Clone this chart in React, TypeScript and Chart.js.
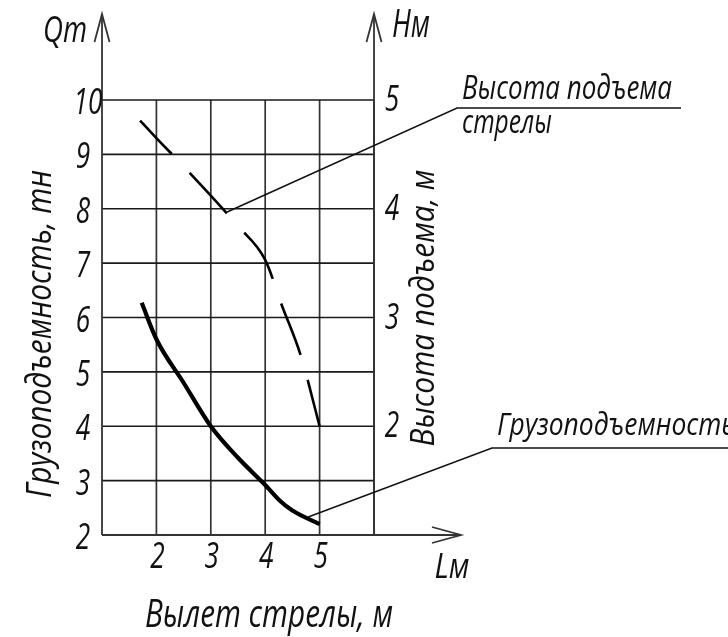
import React, { useEffect, useRef } from "react";
import { Chart, registerables } from "chart.js";
Chart.register(...registerables);

// ---- data ----
const reachCapacity = [1.73, 2, 2.5, 3, 3.5, 4, 4.27, 4.5, 5];
const capacityT = [6.27, 5.6, 4.8, 4.0, 3.42, 2.92, 2.63, 2.45, 2.2];
const reachHeight = [1.7, 2, 2.5, 3, 3.5, 4, 4.3, 4.66, 5];
const heightM = [4.81, 4.65, 4.39, 4.12, 3.84, 3.53, 3.12, 2.64, 2.0];

const xTicks = [2, 3, 4, 5];
const qTicks = [2, 3, 4, 5, 6, 7, 8, 9, 10];
const hTicks = [2, 3, 4, 5];
const xGridValues = [2, 3, 4, 5, 6];
const qGridValues = [3, 4, 5, 6, 7, 8, 9, 10];

const heightLeaderAt = [3.3, 3.97];
const capacityLeaderAt = [4.79, 2.33];

const FONT = "'Open Sans', 'Noto Sans', 'DejaVu Sans', sans-serif";

function drawText(
  ctx: CanvasRenderingContext2D,
  text: string,
  x: number,
  y: number,
  cap: number,
  width: number | null,
  align: CanvasTextAlign,
  rot = 0
) {
  ctx.save();
  ctx.translate(x, y);
  if (rot) ctx.rotate(rot);
  const size = cap / 0.714;
  ctx.font = `italic 400 ${size}px ${FONT}`;
  const m = ctx.measureText(text).width;
  const sx = width ? width / m : 0.72;
  ctx.scale(sx, 1);
  ctx.textAlign = align;
  ctx.textBaseline = "alphabetic";
  ctx.fillStyle = "#111";
  ctx.fillText(text, 0, cap / 2);
  ctx.restore();
}

function arrowHead(ctx: CanvasRenderingContext2D, tx: number, ty: number, dir: "up" | "right") {
  ctx.beginPath();
  if (dir === "up") {
    ctx.moveTo(tx - 7.5, ty + 28);
    ctx.lineTo(tx, ty);
    ctx.lineTo(tx + 7.5, ty + 28);
  } else {
    ctx.moveTo(tx - 29, ty - 8);
    ctx.lineTo(tx, ty);
    ctx.lineTo(tx - 29, ty + 8);
  }
  ctx.stroke();
}

const drawingPlugin = {
  id: "drawing",
  beforeDatasetsDraw(chart: any) {
    const ctx: CanvasRenderingContext2D = chart.ctx;
    const xs = chart.scales.x;
    const ys = chart.scales.y;
    const left = xs.getPixelForValue(1);
    const right = xs.getPixelForValue(6);
    const top = ys.getPixelForValue(10);
    const bottom = ys.getPixelForValue(2);
    ctx.save();
    ctx.strokeStyle = "#333";
    ctx.lineWidth = 1.7;
    for (const v of xGridValues) {
      const px = xs.getPixelForValue(v);
      ctx.beginPath();
      ctx.moveTo(px, top);
      ctx.lineTo(px, bottom);
      ctx.stroke();
    }
    ctx.strokeStyle = "#1a1a1a";
    for (const v of qGridValues) {
      const py = ys.getPixelForValue(v);
      ctx.beginPath();
      ctx.moveTo(left, py);
      ctx.lineTo(right, py);
      ctx.stroke();
    }
    // axes with arrows
    ctx.strokeStyle = "#333";
    ctx.lineWidth = 1.8;
    ctx.beginPath();
    ctx.moveTo(left, bottom);
    ctx.lineTo(left, 14);
    ctx.stroke();
    arrowHead(ctx, left, 14, "up");
    ctx.beginPath();
    ctx.moveTo(right, bottom);
    ctx.lineTo(right, 14);
    ctx.stroke();
    arrowHead(ctx, right, 14, "up");
    ctx.beginPath();
    ctx.moveTo(left, bottom);
    ctx.lineTo(461, bottom);
    ctx.stroke();
    arrowHead(ctx, 461, bottom, "right");
    ctx.restore();
  },
  afterDraw(chart: any) {
    const ctx: CanvasRenderingContext2D = chart.ctx;
    const xs = chart.scales.x;
    const ys = chart.scales.y;
    const hs = chart.scales.yH;
    ctx.save();
    // tick labels
    for (const v of qTicks) {
      drawText(ctx, String(v), v === 10 ? 88 : 83, ys.getPixelForValue(v) + 1, 26, null, "center");
    }
    for (const v of hTicks) {
      drawText(ctx, String(v), 392, hs.getPixelForValue(v) - 2, 26, null, "center");
    }
    for (const v of xTicks) {
      drawText(ctx, String(v), xs.getPixelForValue(v) + 1, 555, 26, null, "center");
    }
    // axis names
    drawText(ctx, "Qт", 65, 29, 26, 44, "center");
    drawText(ctx, "Нм", 411, 23, 27, 38, "center");
    drawText(ctx, "Lм", 452, 565, 25, 35, "center");
    drawText(ctx, "Вылет стрелы, м", 269, 613, 28, 248, "center");
    drawText(ctx, "Грузоподъемность, тн", 38, 334, 25, 328, "center", -Math.PI / 2);
    drawText(ctx, "Высота подъема, м", 422, 308, 23, 277, "center", -Math.PI / 2);

    // leaders
    ctx.strokeStyle = "#111";
    ctx.lineWidth = 1.5;
    const a1x = xs.getPixelForValue(heightLeaderAt[0]);
    const a1y = hs.getPixelForValue(heightLeaderAt[1]);
    ctx.beginPath();
    ctx.moveTo(a1x, a1y);
    ctx.lineTo(457, 108);
    ctx.lineTo(681, 108);
    ctx.stroke();
    const a2x = xs.getPixelForValue(capacityLeaderAt[0]);
    const a2y = ys.getPixelForValue(capacityLeaderAt[1]);
    ctx.beginPath();
    ctx.moveTo(a2x, a2y);
    ctx.lineTo(492, 448);
    ctx.lineTo(728, 448);
    ctx.stroke();

    drawText(ctx, "Высота подъема", 462, 87, 24, 210, "left");
    drawText(ctx, "стрелы", 462, 121, 24, 90, "left");
    drawText(ctx, "Грузоподъемность", 497, 424, 22, 238, "left");
    ctx.restore();
  },
};

export default function App() {
  const ref = useRef<HTMLCanvasElement | null>(null);
  useEffect(() => {
    if (!ref.current) return;
    const chart = new Chart(ref.current, {
      type: "line",
      data: {
        datasets: [
          {
            label: "Грузоподъемность",
            data: reachCapacity.map((x, i) => ({ x, y: capacityT[i] })),
            borderColor: "#000",
            borderWidth: 4.2,
            pointRadius: 0,
            cubicInterpolationMode: "monotone",
            yAxisID: "y",
            fill: false,
          },
          {
            label: "Высота подъема стрелы",
            data: reachHeight.map((x, i) => ({ x, y: heightM[i] })),
            borderColor: "#000",
            borderWidth: 2.6,
            borderDash: [55, 26],
            borderDashOffset: 9,
            pointRadius: 0,
            cubicInterpolationMode: "monotone",
            yAxisID: "yH",
            fill: false,
          },
        ],
      },
      options: {
        responsive: false,
        animation: false,
        events: [],
        layout: { padding: { left: 102, right: 354, top: 100, bottom: 102 } },
        plugins: { legend: { display: false }, tooltip: { enabled: false }, title: { display: false } },
        scales: {
          x: { type: "linear", min: 1, max: 6, display: false },
          y: { type: "linear", min: 2, max: 10, display: false },
          yH: { type: "linear", min: 1, max: 5, display: false, position: "right" },
        },
      },
      plugins: [drawingPlugin],
    });
    return () => chart.destroy();
  }, []);
  return (
    <div style={{ position: "absolute", left: 0, top: 0, width: 728, height: 637, background: "#fff" }}>
      <canvas ref={ref} width={728} height={637} />
    </div>
  );
}
